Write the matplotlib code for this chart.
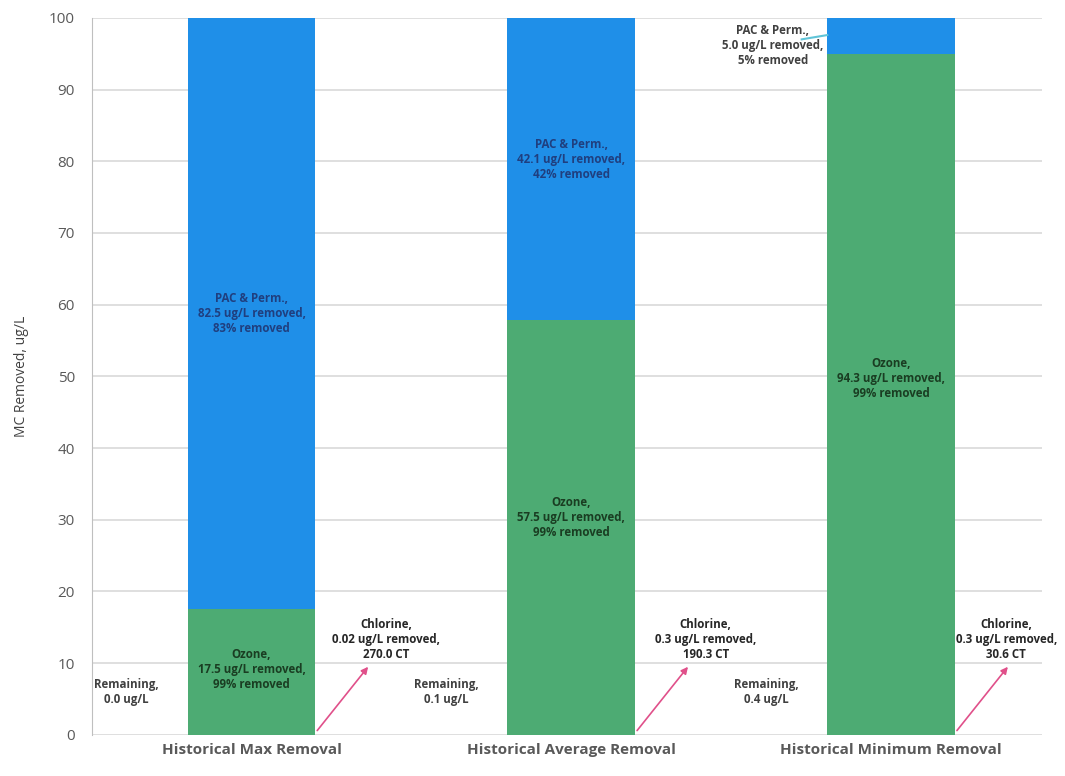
import matplotlib.pyplot as plt
import numpy as np

plt.rcParams['font.family'] = ['Open Sans', 'DejaVu Sans']

categories = ['Historical Max Removal', 'Historical Average Removal', 'Historical Minimum Removal']
remaining = [0.0, 0.1, 0.4]
chlorine = [0.02, 0.3, 0.3]
ozone = [17.5, 57.5, 94.3]
pac = [82.5, 42.1, 5.0]
chlorine_ct = [270.0, 190.3, 30.6]
pac_pct = ['83%', '42%', '5%']
ozone_pct = ['99%', '99%', '99%']

x = np.arange(len(categories))
w = 0.4
blue = '#1f8fe8'
green = '#4dab73'

fig = plt.figure(figsize=(10.65, 7.76), dpi=100)
ax = fig.add_axes([0.086, 0.053, 0.892, 0.924])

b0 = np.array(remaining)
b1 = b0 + np.array(chlorine)
b2 = b1 + np.array(ozone)
ax.bar(x, remaining, w, color=green, zorder=3)
ax.bar(x, chlorine, w, bottom=b0, color=green, zorder=3)
ax.bar(x, ozone, w, bottom=b1, color=green, zorder=3)
ax.bar(x, pac, w, bottom=b2, color=blue, zorder=3)

ax.set_xlim(-0.5, 2.47)
ax.set_ylim(0, 100)
ax.set_yticks(range(0, 101, 10))
ax.grid(axis='y', color='#d9d9d9', lw=1.2, zorder=0)
ax.set_xticks(x)
ax.set_xticklabels(categories, fontsize=11, fontweight='bold', color='#595959')
ax.tick_params(axis='y', labelsize=11, colors='#595959', length=0, pad=12)
ax.tick_params(axis='x', length=0, pad=6)
for s in ['top', 'right', 'bottom']:
    ax.spines[s].set_visible(False)
ax.spines['left'].set_color('#bfbfbf')
ax.set_ylabel('MC Removed, ug/L', fontsize=10, color='#404040', labelpad=14)

fs = 8.3
chl_off = [0.42, 0.42, 0.36]
# labels inside bars
for i in range(3):
    if pac[i] > 20:
        ax.text(x[i], b2[i] + pac[i] * (0.5 if i == 0 else 0.53),
                'PAC & Perm.,\n%.1f ug/L removed,\n%s removed' % (pac[i], pac_pct[i]),
                ha='center', va='center', fontsize=fs, fontweight='bold', color='#1f3f7f', zorder=4)
    ax.text(x[i], b1[i] + ozone[i] * 0.52,
            'Ozone,\n%.1f ug/L removed,\n%s removed' % (ozone[i], ozone_pct[i]),
            ha='center', va='center', fontsize=fs, fontweight='bold', color='#1a3d22', zorder=4)
    ax.text(x[i] - 0.39, 6.0, 'Remaining,\n%.1f ug/L' % remaining[i],
            ha='center', va='center', fontsize=fs, fontweight='bold', color='#404040', zorder=4)
    chl = '%.2f' % chlorine[i] if chlorine[i] < 0.1 else '%.1f' % chlorine[i]
    ax.text(x[i] + chl_off[i], 13.3,
            'Chlorine,\n%s ug/L removed,\n%.1f CT' % (chl, chlorine_ct[i]),
            ha='center', va='center', fontsize=fs, fontweight='bold', color='#262626', zorder=4)
    ax.annotate('', xy=(x[i] + 0.37, 9.8), xytext=(x[i] + w / 2, 0.3),
                arrowprops=dict(arrowstyle='-|>', color='#e0508a', lw=1.2), zorder=4)

# small PAC label outside third bar
ax.text(x[2] - 0.37, 96.2, 'PAC & Perm.,\n%.1f ug/L removed,\n%s removed' % (pac[2], pac_pct[2]),
        ha='center', va='center', fontsize=fs, fontweight='bold', color='#404040', zorder=4)
ax.plot([x[2] - 0.28, x[2] - w / 2], [97.0, 97.6], color='#5fc4d8', lw=1.5, zorder=4)

fig.savefig('out.png', dpi=100)
